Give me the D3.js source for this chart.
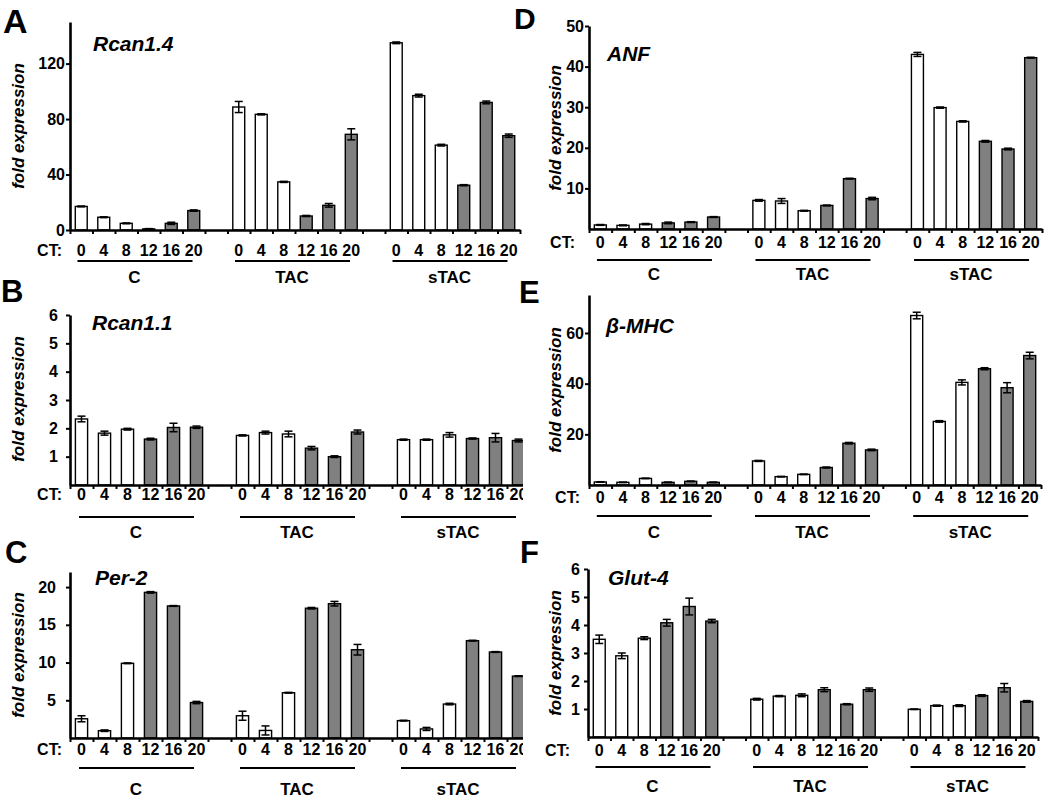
<!DOCTYPE html>
<html>
<head>
<meta charset="utf-8">
<script src="https://cdn.jsdelivr.net/npm/d3@7"></script>
<style>
  body { margin: 0; background: #fff; }
  svg { font-family: "Liberation Sans", Arial, Helvetica, sans-serif; font-weight: bold; }
</style>
</head>
<body>
<svg id="chart" width="1050" height="798"></svg>
<script>
// categories
var groups = ["C", "TAC", "sTAC"];
var ctTimes = [0, 4, 8, 12, 16, 20];

// fold expression, one row per group (C, TAC, sTAC), one value per CT time
var rcan14Vals = [[17, 9.2, 4.8, 0.8, 4.8, 14], [88.7, 83.4, 34.7, 10.1, 17.8, 69], [135, 96.9, 61.2, 32.3, 92, 68]];
var rcan14Errs = [[0.3, 0.3, 0.3, 0.2, 0.8, 0.5], [4, 0.4, 0.4, 0.4, 1.3, 4], [0.6, 1, 0.6, 0.4, 1, 1.2]];

var rcan11Vals = [[2.33, 1.83, 1.97, 1.62, 2.03, 2.04], [1.75, 1.85, 1.8, 1.3, 1.0, 1.87], [1.6, 1.6, 1.77, 1.64, 1.67, 1.57]];
var rcan11Errs = [[0.1, 0.07, 0.03, 0.03, 0.15, 0.04], [0.02, 0.05, 0.1, 0.06, 0.03, 0.07], [0.02, 0.02, 0.08, 0.02, 0.15, 0.05]];

var per2Vals = [[2.55, 0.97, 9.9, 19.3, 17.5, 4.7], [2.95, 1.0, 6.0, 17.2, 17.8, 11.7], [2.3, 1.2, 4.5, 12.9, 11.4, 8.2]];
var per2Errs = [[0.4, 0.1, 0.05, 0.1, 0.05, 0.15], [0.6, 0.6, 0.05, 0.1, 0.3, 0.7], [0.05, 0.2, 0.1, 0.05, 0.05, 0.05]];

var anfVals = [[1.0, 0.9, 1.2, 1.5, 1.7, 2.95], [7.05, 6.9, 4.5, 5.8, 12.4, 7.5], [43.0, 29.9, 26.5, 21.6, 19.7, 42.2]];
var anfErrs = [[0.1, 0.1, 0.15, 0.2, 0.1, 0.1], [0.2, 0.6, 0.1, 0.1, 0.1, 0.3], [0.5, 0.15, 0.15, 0.2, 0.2, 0.1]];

var bmhcVals = [[1.2, 1.05, 2.6, 1.05, 1.45, 1.05], [9.5, 3.3, 4.2, 6.9, 16.5, 13.85], [66.9, 25.1, 40.5, 45.9, 38.4, 51.1]];
var bmhcErrs = [[0.1, 0.1, 0.1, 0.1, 0.1, 0.1], [0.2, 0.1, 0.1, 0.2, 0.3, 0.3], [1.3, 0.3, 1.0, 0.4, 2.0, 1.3]];

var glut4Vals = [[3.49, 2.9, 3.53, 4.08, 4.66, 4.14], [1.35, 1.46, 1.49, 1.69, 1.17, 1.69], [0.99, 1.12, 1.12, 1.48, 1.76, 1.27]];
var glut4Errs = [[0.15, 0.1, 0.05, 0.12, 0.3, 0.06], [0.03, 0.02, 0.05, 0.07, 0.02, 0.06], [0.01, 0.02, 0.03, 0.03, 0.15, 0.03]];

// y axis tick labels and maxima
var rcan14Ticks = [0, 40, 80, 120];
var rcan11Ticks = [1, 2, 3, 4, 5, 6];
var per2Ticks = [5, 10, 15, 20];
var anfTicks = [10, 20, 30, 40, 50];
var bmhcTicks = [20, 40, 60];
var glut4Ticks = [1, 2, 3, 4, 5, 6];

var panels = [
    {letter: "A", gene: "Rcan1.4", vals: rcan14Vals, errs: rcan14Errs, ticks: rcan14Ticks, max: 150},
    {letter: "B", gene: "Rcan1.1", vals: rcan11Vals, errs: rcan11Errs, ticks: rcan11Ticks, max: 6},
    {letter: "C", gene: "Per-2", vals: per2Vals, errs: per2Errs, ticks: per2Ticks, max: 22},
    {letter: "D", gene: "ANF", vals: anfVals, errs: anfErrs, ticks: anfTicks, max: 50},
    {letter: "E", gene: "\u03b2-MHC", vals: bmhcVals, errs: bmhcErrs, ticks: bmhcTicks, max: 75},
    {letter: "F", gene: "Glut-4", vals: glut4Vals, errs: glut4Errs, ticks: glut4Ticks, max: 6}
];

// placement of each panel on the page
var layouts = [
    {x0: 70, w: 22.5, base: 230, top: 22, pad: 1, lx: 3, ly: 33, ls: 34, gx: 93, gy: 51, yl: 24, ylc: 126, ct: 256, ctx: 62, ul: 261, grp: 283},
    {x0: 70, w: 23, base: 485, top: 315, pad: 8, lx: 1, ly: 302, ls: 31, gx: 92, gy: 330, yl: 24, ylc: 399, ct: 500, ctx: 62, ul: 517, grp: 538},
    {x0: 70, w: 23, base: 738, top: 572, pad: 10, lx: 5, ly: 563, ls: 31, gx: 95, gy: 585, yl: 24, ylc: 655, ct: 755, ctx: 62, ul: 768, grp: 795},
    {x0: 589, w: 22.65, base: 229, top: 26, pad: 1, lx: 514, ly: 29, ls: 30, gx: 607, gy: 61, yl: 561, ylc: 128, ct: 248, ctx: 575, ul: 260, grp: 280},
    {x0: 589, w: 22.6, base: 485, top: 295, pad: 1, lx: 519, ly: 303, ls: 31, gx: 606, gy: 333, yl: 561, ylc: 390, ct: 503, ctx: 580, ul: 516, grp: 538},
    {x0: 588, w: 22.5, base: 737, top: 569, pad: 4, lx: 520, ly: 563, ls: 31, gx: 608, gy: 585, yl: 561, ylc: 653, ct: 756, ctx: 570, ul: 767, grp: 792}
];

var svg = d3.select("#chart");
svg.append("rect").attr("width", 1050).attr("height", 798).attr("fill", "#fff");

function drawPanel(p, L) {
    var g = svg.append("g");
    var x1 = L.x0 + 20 * L.w;
    var x = d3.scaleLinear().domain([0, 20]).range([L.x0, x1]);
    var band = d3.scaleBand().domain(d3.range(20)).range([L.x0, x1])
        .paddingInner(0.47).paddingOuter(0.235);
    var y = d3.scaleLinear().domain([0, p.max]).range([L.base, L.top]);

    var rows = [];
    p.vals.forEach(function (arr, gi) {
        arr.forEach(function (v, j) {
            rows.push({slot: gi * 7 + j, v: v, e: p.errs[gi][j], j: j});
        });
    });

    g.selectAll(".bar").data(rows).enter().append("rect")
        .attr("x", function (d) { return band(d.slot); })
        .attr("width", band.bandwidth())
        .attr("y", function (d) { return y(d.v); })
        .attr("height", function (d) { return L.base - y(d.v); })
        .attr("fill", function (d) { return d.j < 3 ? "#fff" : "#808080"; })
        .attr("stroke", "#000")
        .attr("stroke-width", 1.4);

    var eb = g.selectAll(".err").data(rows).enter().append("g")
        .attr("stroke", "#000").attr("stroke-width", 1.5);
    eb.append("line")
        .attr("x1", function (d) { return band(d.slot) + band.bandwidth() / 2; })
        .attr("x2", function (d) { return band(d.slot) + band.bandwidth() / 2; })
        .attr("y1", function (d) { return y(d.v - d.e); })
        .attr("y2", function (d) { return y(d.v + d.e); });
    [-1, 1].forEach(function (s) {
        eb.append("line")
            .attr("x1", function (d) { return band(d.slot) + band.bandwidth() / 2 - 4; })
            .attr("x2", function (d) { return band(d.slot) + band.bandwidth() / 2 + 4; })
            .attr("y1", function (d) { return y(d.v + s * d.e); })
            .attr("y2", function (d) { return y(d.v + s * d.e); });
    });

    var xAxis = g.append("g").attr("transform", "translate(0," + L.base + ")")
        .call(d3.axisBottom(x).tickValues(d3.range(21)).tickSize(4).tickSizeOuter(0).tickFormat(""));
    var yAxis = g.append("g").attr("transform", "translate(" + L.x0 + ",0)")
        .call(d3.axisLeft(y).tickValues(p.ticks).tickSize(4).tickSizeOuter(0)
            .tickPadding(L.pad).tickFormat(d3.format("d")));
    [xAxis, yAxis].forEach(function (a) {
        a.select(".domain").attr("stroke-width", 2.6);
        a.selectAll(".tick line").attr("stroke-width", 2);
    });
    yAxis.selectAll(".tick text")
        .attr("font-size", 16).attr("font-weight", "bold")
        .attr("font-family", "Liberation Sans, Arial, sans-serif").attr("fill", "#000");

    // CT row
    g.append("text").attr("x", L.ctx).attr("y", L.ct)
        .attr("text-anchor", "end").attr("font-size", 16).text("CT:");
    g.selectAll(".ctl").data(rows).enter().append("text")
        .attr("x", function (d) { return band(d.slot) + band.bandwidth() / 2; })
        .attr("y", L.ct)
        .attr("text-anchor", "middle").attr("font-size", 16)
        .text(function (d) { return ctTimes[d.j]; });

    groups.forEach(function (name, gi) {
        var c = x(gi * 7 + 3);
        g.append("line").attr("x1", c - 60).attr("x2", c + 55)
            .attr("y1", L.ul).attr("y2", L.ul)
            .attr("stroke", "#000").attr("stroke-width", 2);
        g.append("text").attr("x", c - 3).attr("y", L.grp)
            .attr("text-anchor", "middle").attr("font-size", 17).text(name);
    });

    g.append("text").attr("x", L.gx).attr("y", L.gy)
        .attr("font-size", 21).attr("font-style", "italic").text(p.gene);

    g.append("text")
        .attr("transform", "translate(" + L.yl + "," + L.ylc + ") rotate(-90)")
        .attr("text-anchor", "middle").attr("font-size", 17).attr("font-style", "italic")
        .text("fold expression");

    g.append("text").attr("x", L.lx).attr("y", L.ly)
        .attr("font-size", L.ls).text(p.letter);
}

// left column first, then a white strip that hides their overhang
[0, 1, 2].forEach(function (i) { drawPanel(panels[i], layouts[i]); });
svg.append("rect").attr("x", 523).attr("y", 0).attr("width", 20).attr("height", 798).attr("fill", "#fff");
[3, 4, 5].forEach(function (i) { drawPanel(panels[i], layouts[i]); });
</script>
</body>
</html>
